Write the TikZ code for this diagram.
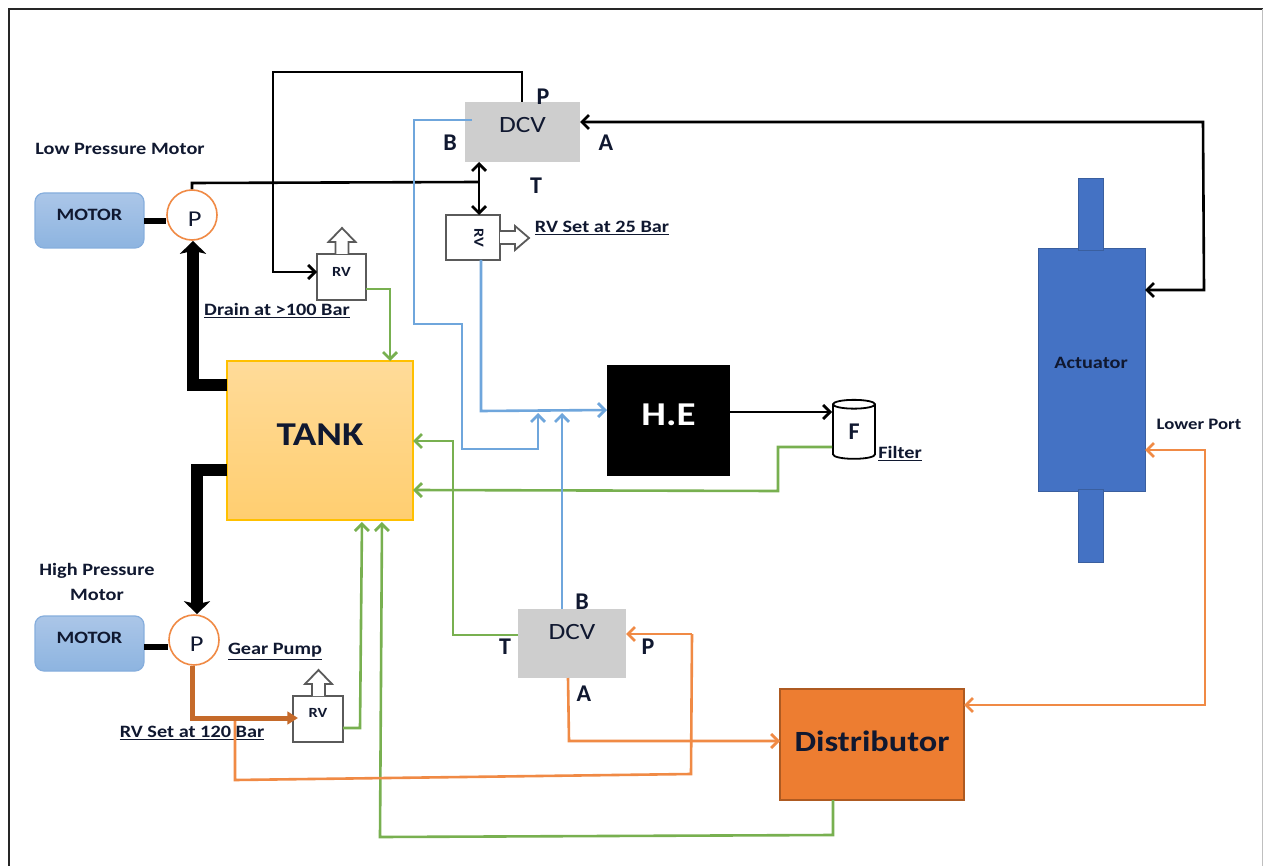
\documentclass[tikz,border=0pt]{standalone}
\usepackage{fontspec}
\setmainfont{Carlito}
\newfontfamily\widefam[FakeStretch=1.17]{Carlito}
\usetikzlibrary{arrows.meta,shapes.geometric,calc}
\newlength\px \setlength\px{0.75pt}
\newcommand\fsz[1]{\fontsize{#1}{#1}\selectfont}
\definecolor{inktext}{HTML}{101830}
\definecolor{lineblue}{HTML}{6FA6DC}
\definecolor{linegreen}{HTML}{78B050}
\definecolor{lineorange}{HTML}{F08A45}
\definecolor{linebrown}{HTML}{C56A2A}
\definecolor{ventgrey}{HTML}{5A5A5A}
\definecolor{motortop}{HTML}{ABC6E8}
\definecolor{motorbot}{HTML}{8DB4E0}
\definecolor{motoredge}{HTML}{86AEDD}
\definecolor{dcvgrey}{HTML}{CECECE}
\definecolor{tanktop}{HTML}{FFDB99}
\definecolor{tankbot}{HTML}{FFCE70}
\definecolor{tankedge}{HTML}{FFC000}
\definecolor{distfill}{HTML}{ED7D31}
\definecolor{distedge}{HTML}{AE5A21}
\definecolor{actfill}{HTML}{4472C4}
\definecolor{actedge}{HTML}{3A5F9F}
\tikzset{
  box/.style={rectangle,inner sep=0pt,outer sep=0pt},
  motorbox/.style={box,rounded corners=9\px,top color=motortop,bottom color=motorbot,draw=motoredge,line width=1.2\px,minimum width=109\px,minimum height=55\px,
    label={[font=\widefam\bfseries\fsz{13},text=inktext,yshift=4.5pt]center:MOTOR}},
  pumpc/.style={circle,draw=lineorange,fill=white,line width=1.6\px,inner sep=0pt,minimum size=50\px,
    label={[font=\widefam\fsz{17},text=inktext,xshift=2pt,yshift=-3pt]center:P}},
  dcvbox/.style={box,fill=dcvgrey},
  dcvtext/.style={font=\widefam\fsz{17.5},text=inktext},
  rvbox/.style={box,draw=ventgrey,fill=white,line width=1.8\px},
  rvtext/.style={font=\widefam\bfseries\fsz{10.5},text=inktext,inner sep=0pt},
  vent/.style={draw=ventgrey,fill=white,line width=1.8\px,line join=miter},
  lbl/.style={inner sep=0pt,font=\widefam\bfseries\fsz{13},text=inktext,align=center},
  port/.style={inner sep=0pt,font=\bfseries\fsz{18},text=inktext},
  conn/.style={line width=2.6\px,line join=miter,-{Straight Barb[length=5.25pt,width=10.5pt,line width=2.1pt]}},
  both/.style={line width=2.6\px,line join=miter,{Straight Barb[length=5.25pt,width=10.5pt,line width=2.1pt]}-{Straight Barb[length=5.25pt,width=10.5pt,line width=2.1pt]}},
  plain/.style={line width=2.6\px,line join=miter},
  heavy/.style={line width=12\px,line join=miter,-{Stealth[length=9.75pt,width=19.5pt,inset=2.25pt]},black},
  shaft/.style={line width=6\px,black},
}
\begin{document}
\begin{tikzpicture}[x=0.75pt,y=-0.75pt]
\useasboundingbox (0,0) rectangle (1263,866);
\fill[white] (0,0) rectangle (1263,866);
% frame
\draw[line width=2.6\px,black!85] (9,866) -- (9,9) -- (1263,9);
\draw[line width=1\px,black!25] (1262,9) -- (1262,866);

% equipment
\node[motorbox] (motorA) at (89.5,220.5) {};
\node[motorbox] (motorB) at (89.5,643.5) {};
\node[pumpc] (pumpA) at (192,215) {};
\node[pumpc] (pumpB) at (194,640) {};
\node[box,top color=tanktop,bottom color=tankbot,draw=tankedge,line width=1.5\px,minimum width=186\px,minimum height=159\px,text=inktext,font=\widefam\bfseries\fsz{25}] (tank) at (320,440.5) {\raisebox{9pt}{TANK}};
\node[dcvbox,minimum width=115\px,minimum height=60\px,label={[dcvtext,yshift=5.5pt]center:DCV}] (dcvA) at (522.5,132) {};
\node[dcvbox,minimum width=108\px,minimum height=69\px,label={[dcvtext,yshift=8.5pt]center:DCV}] (dcvB) at (572,643.5) {};
\node[rvbox,minimum width=49\px,minimum height=46\px] (rvA) at (341.5,277) {};
\node[rvtext] (rvAt) at (341.5,272) {RV};
\node[rvbox,minimum width=54\px,minimum height=45\px] (rvB) at (473,237.5) {};
\node[rvtext,rotate=-90] (rvBt) at (479,238) {RV};
\node[rvbox,minimum width=50\px,minimum height=46\px] (rvC) at (318,719) {};
\node[rvtext] (rvCt) at (318,713) {RV};
\node[box,fill=black,text=white,font=\widefam\bfseries\fsz{25},minimum width=123\px,minimum height=111\px] (he) at (668.5,420.5) {\raisebox{8pt}{H.E}};
\node[cylinder,shape border rotate=90,draw=black,fill=white,line width=1.8\px,aspect=0.8,minimum width=42\px,minimum height=59\px,inner sep=0pt,text=inktext,font=\bfseries\fsz{18}] (filter) at (854,432) {\raisebox{-3pt}{F}};
\node[box,fill=distfill,draw=distedge,line width=1.5\px,minimum width=184\px,minimum height=111\px,text=inktext,font=\widefam\bfseries\fsz{22}] (dist) at (872,744.5) {\raisebox{5pt}{Distributor}};
\node[box,fill=actfill,draw=actedge,line width=1\px,minimum width=107\px,minimum height=242\px] (act) at (1091.5,370) {};
\node[box,fill=actfill,draw=actedge,line width=1\px,minimum width=25\px,minimum height=72\px] (stubA) at (1090.5,215) {};
\node[box,fill=actfill,draw=actedge,line width=1\px,minimum width=25\px,minimum height=73\px] (stubB) at (1090.5,525.5) {};
\node[font=\widefam\bfseries\fsz{13},text=inktext,inner sep=0pt] (actT) at (1091,363) {Actuator};

% relief-valve vent arrows
\draw[vent] (rvA.north) ++(-6,0) -- ++(0,-12) -- ++(-7,0) -- ++(13.5,-14) -- ++(13.5,14) -- ++(-7,0) -- ++(0,12);
\draw[vent] (rvC.north) ++(-6,0) -- ++(0,-12) -- ++(-7,0) -- ++(13.5,-14) -- ++(13.5,14) -- ++(-7,0) -- ++(0,12);
\draw[vent] (rvB.east |- 0,231) -- (515,231) -- (515,226) -- (529,238) -- (515,250) -- (515,244) -- (rvB.east |- 0,244);

% labels
\node[lbl] (t1) at (120,149) {Low Pressure Motor};
\node[lbl] (t2) at (97,582) {High Pressure\\[6pt]Motor};
\node[lbl] (t3) at (277,311) {\underline{Drain at >100 Bar}};
\node[lbl] (t4) at (602,228) {\underline{RV Set at 25 Bar}};
\node[lbl] (t5) at (275,652) {\underline{Gear Pump}};
\node[lbl] (t6) at (192,733) {\underline{RV Set at 120 Bar}};
\node[lbl] (t7) at (900,454) {\underline{Filter}};
\node[lbl,font=\widefam\bfseries\fsz{12}] (t8) at (1199,424) {Lower Port};
\node[port] (pa) at (543,97) {P};
\node[port] (ba) at (450,143) {B};
\node[port] (aa) at (606,143) {A};
\node[port] (ta) at (536,186) {T};
\node[port] (pb) at (648,647) {P};
\node[port] (bb) at (582,602) {B};
\node[port] (tb) at (505,647) {T};
\node[port] (ab) at (584,694) {A};

% junctions on shared lines
\coordinate (teeP) at (479,182);
\coordinate (teeB) at (235,718);
\coordinate (heL) at (538,412);
\coordinate (heR) at (562,412);
\coordinate (bendP) at (692,634);
\coordinate (dcvAin) at (472,120);

% heavy suction lines
\draw[heavy] (tank.west |- 0,385) -- (193,385) -- (pumpA.south -| 193,0);
\draw[heavy] (tank.west |- 0,470) -- (197,470) -- (pumpB.north -| 197,0);
\draw[shaft] (motorA.east |- 0,221) -- (pumpA.west |- 0,221);
\draw[shaft] (motorB.east |- 0,647) -- (pumpB.west |- 0,647);

% black lines
\draw[conn,black] (dcvA.north -| 522,0) -- (522,72) -- (273,72) -- (273,272) -- (rvA.west |- 0,272);
\draw[plain,black] (pumpA.north) -- (192,183) -- (teeP);
\draw[both,black] (dcvA.south -| 479,0) -- (rvB.north -| 479,0);
\draw[both,black] (dcvA.east |- 0,122) -- (1203,122) -- (1204,290) -- (act.east |- 0,290);
\draw[conn,black] (he.east |- 0,412) -- (filter.west |- 0,412);

% green lines
\draw[conn,linegreen] (rvA.east |- 0,289) -- (390,289) -- (tank.north -| 390,0);
\draw[conn,linegreen] (filter.west |- 0,447) -- (778,447) -- (778,491) -- (tank.east |- 0,490);
\draw[conn,linegreen] (dcvB.west |- 0,635) -- (453,635) -- (453,441) -- (tank.east |- 0,441);
\draw[conn,linegreen,shorten >=2\px] (rvC.east |- 0,728) -- (360,728) -- (tank.south -| 362,0);
\draw[conn,linegreen,shorten >=2\px] (dist.south -| 833,0) -- (833,835) -- (380,837) -- (tank.south -| 382,0);

% blue lines
\draw[conn,lineblue] (rvB.south -| 481,0) -- (481,411) -- (he.west |- 0,410);
\draw[conn,lineblue,shorten >=1\px] (dcvAin) -- (414,120) -- (414,324) -- (462,324) -- (462,449) -- (538,449) -- (heL);
\draw[conn,lineblue,shorten >=1\px] (dcvB.north -| 562,0) -- (heR);

% orange lines
\draw[plain,lineorange] (teeB) -- (235,780) -- (691,774) -- (bendP);
\draw[conn,lineorange] (bendP) -- (dcvB.east |- 0,634);
\draw[conn,lineorange] (dcvB.south -| 568,0) -- (569,741) -- (dist.west |- 0,741);
\draw[both,lineorange] (act.east |- 0,450) -- (1205,450) -- (1205,705) -- (dist.east |- 0,705);
\draw[linebrown,line width=5\px,line join=miter,shorten >=-5\px,-{Stealth[length=8pt,width=9.5pt,inset=0pt]}] (pumpB.south -| 192,0) -- (192,718) -- (rvC.west |- 0,718);
\end{tikzpicture}
\end{document}
